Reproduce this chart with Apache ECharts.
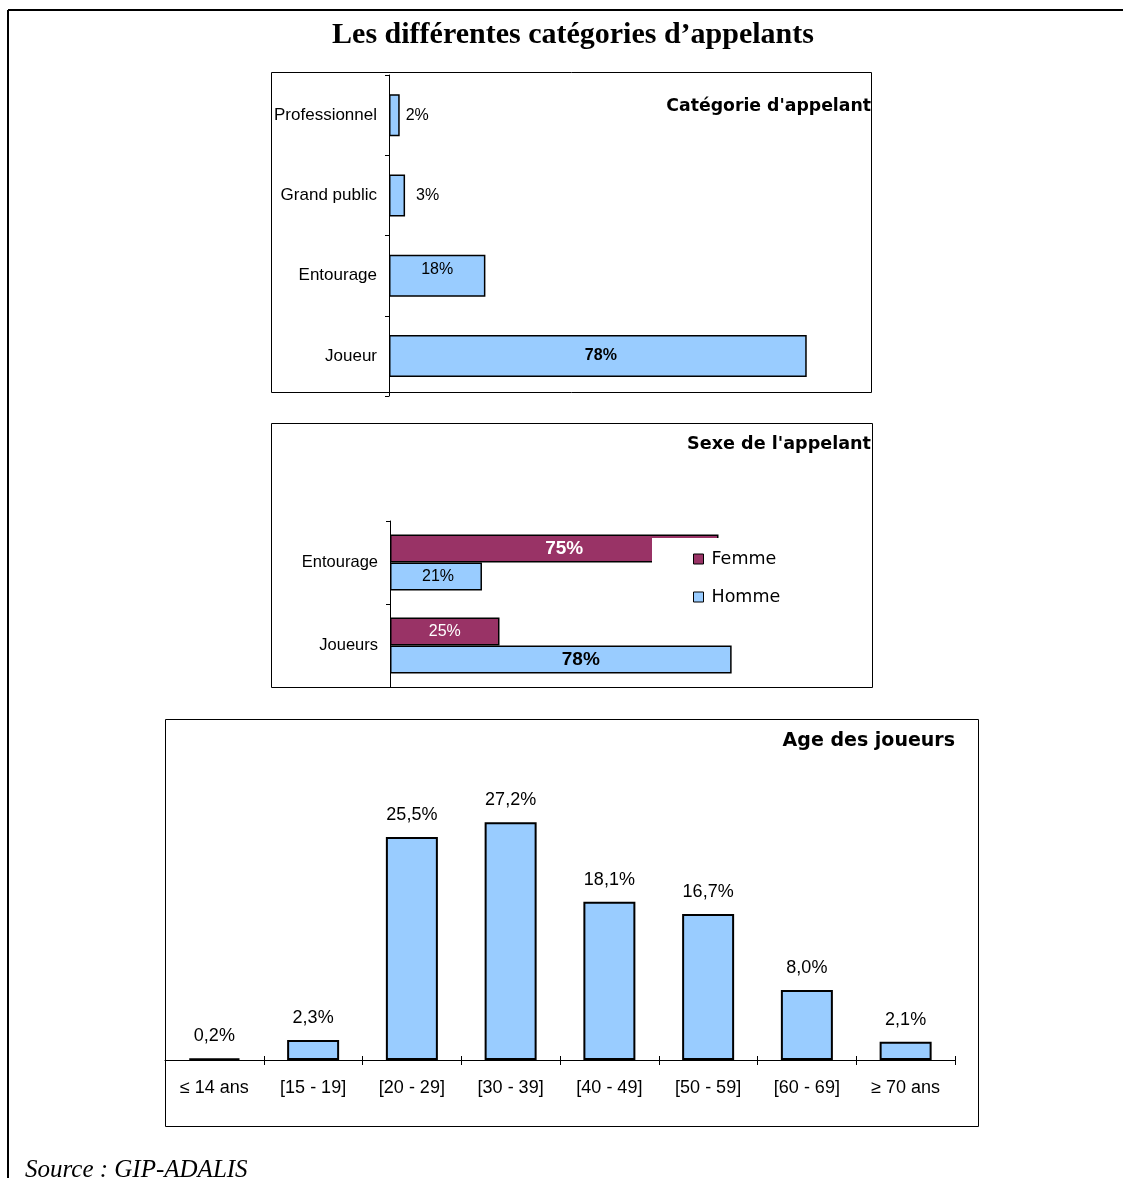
<!DOCTYPE html>
<html>
<head>
<meta charset="utf-8">
<title>Les différentes catégories d’appelants</title>
<script src="https://cdn.jsdelivr.net/npm/echarts@6/dist/echarts.min.js"></script>
<style>
  html, body { margin: 0; padding: 0; background: #fff; }
  #chart { width: 1123px; height: 1178px; }
</style>
</head>
<body>
<div id="chart"></div>
<script>
// Catégorie d'appelant (share of calls, %)
const callerCategories = ['Professionnel', 'Grand public', 'Entourage', 'Joueur'];
const callerValues = [2, 3, 18, 78];

// Sexe de l'appelant (%)
const sexCategories = ['Entourage', 'Joueurs'];
const femmeValues = [75, 25];
const hommeValues = [21, 78];

// Age des joueurs (%)
const ageCategories = ['≤ 14 ans', '[15 - 19]', '[20 - 29]', '[30 - 39]', '[40 - 49]', '[50 - 59]', '[60 - 69]', '≥ 70 ans'];
const ageValues = [0.2, 2.3, 25.5, 27.2, 18.1, 16.7, 8.0, 2.1];

const BLUE = '#99CCFF';
const PLUM = '#993366';
const SANS = '"Liberation Sans", Arial, sans-serif';
const HEAD = '"DejaVu Sans", Verdana, sans-serif';
const SERIF = '"Liberation Serif", "Times New Roman", serif';

// per-bar label placement for the caller-category chart
const callerLabelStyles = [
  { position: 'right', distance: 6 },
  { position: 'right', distance: 11 },
  { position: 'insideTop', distance: 7 },
  { position: 'inside', fontWeight: 'bold', offset: [3, 0] }
];
const femmeLabelStyles = [
  { position: 'inside', fontWeight: 'bold', fontSize: 19, offset: [10, 0] },
  { position: 'inside', fontSize: 16 }
];
const hommeLabelStyles = [
  { position: 'inside', fontSize: 16, offset: [2, 0] },
  { position: 'inside', fontWeight: 'bold', fontSize: 19, offset: [20, 0] }
];

const pct = v => v + '%';

const chart = echarts.init(document.getElementById('chart'), null, { renderer: 'canvas' });

const boxStroke = { fill: 'none', stroke: '#000', lineWidth: 1 };

chart.setOption({
  animation: false,
  backgroundColor: '#fff',
  textStyle: { fontFamily: SANS, color: '#000' },
  grid: [
    { left: 389, top: 75, width: 482, height: 321 },
    { left: 390, top: 521, width: 438, height: 166 },
    { left: 165, top: 754, width: 790, height: 306 }
  ],
  xAxis: [
    { gridIndex: 0, type: 'value', min: 0, max: 90, show: false },
    { gridIndex: 1, type: 'value', min: 0, max: 100, show: false },
    {
      gridIndex: 2, type: 'category', data: ageCategories, position: 'bottom',
      axisLine: { lineStyle: { color: '#000', width: 1 } },
      axisTick: { show: true, length: 5, lineStyle: { color: '#000' } },
      axisLabel: { fontSize: 18, color: '#000', margin: 19, fontFamily: SANS },
      splitLine: { show: false }
    },
    {
      gridIndex: 2, type: 'category', data: ageCategories, position: 'bottom',
      axisLine: { show: false },
      axisTick: { show: true, inside: true, length: 4, lineStyle: { color: '#000' } },
      axisLabel: { show: false },
      splitLine: { show: false }
    }
  ],
  yAxis: [
    {
      gridIndex: 0, type: 'category', data: callerCategories, inverse: true,
      axisLine: { lineStyle: { color: '#000', width: 1 } },
      axisTick: { show: true, length: 4, lineStyle: { color: '#000' } },
      axisLabel: { fontSize: 17, color: '#000', margin: 12, fontFamily: SANS }
    },
    {
      gridIndex: 1, type: 'category', data: sexCategories, inverse: true,
      axisLine: { lineStyle: { color: '#000', width: 1 } },
      axisTick: { show: true, length: 4, lineStyle: { color: '#000' } },
      axisLabel: { fontSize: 16.5, color: '#000', margin: 12, fontFamily: SANS }
    },
    { gridIndex: 2, type: 'value', min: 0, max: 35, show: false }
  ],
  legend: {
    data: ['Femme', 'Homme'],
    orient: 'vertical',
    left: 652, top: 538,
    padding: [12, 90, 12, 41],
    backgroundColor: '#fff',
    icon: 'rect',
    itemWidth: 10, itemHeight: 10,
    itemGap: 20,
    selectedMode: false,
    itemStyle: { borderColor: '#000', borderWidth: 1 },
    textStyle: { fontSize: 17.5, fontFamily: HEAD, color: '#000', padding: [0, 0, 0, 3] }
  },
  series: [
    {
      type: 'bar', xAxisIndex: 0, yAxisIndex: 0, barWidth: 42,
      itemStyle: { color: BLUE, borderColor: '#000', borderWidth: 1.5 },
      label: { show: true, fontSize: 16, color: '#000', fontFamily: SANS, formatter: p => pct(p.value) },
      data: callerValues.map((v, i) => ({ value: v, label: callerLabelStyles[i] }))
    },
    {
      name: 'Femme', type: 'bar', xAxisIndex: 1, yAxisIndex: 1, barWidth: 28, barGap: '0%',
      itemStyle: { color: PLUM, borderColor: '#000', borderWidth: 1.5 },
      label: { show: true, color: '#fff', fontFamily: SANS, formatter: p => pct(p.value) },
      data: femmeValues.map((v, i) => ({ value: v, label: femmeLabelStyles[i] }))
    },
    {
      name: 'Homme', type: 'bar', xAxisIndex: 1, yAxisIndex: 1, barWidth: 28, barGap: '0%',
      itemStyle: { color: BLUE, borderColor: '#000', borderWidth: 1.5 },
      label: { show: true, color: '#000', fontFamily: SANS, formatter: p => pct(p.value) },
      data: hommeValues.map((v, i) => ({ value: v, label: hommeLabelStyles[i] }))
    },
    {
      type: 'bar', xAxisIndex: 2, yAxisIndex: 2, barWidth: 52,
      itemStyle: { color: BLUE, borderColor: '#000', borderWidth: 2 },
      label: {
        show: true, position: 'top', distance: 13, fontSize: 18, color: '#000', fontFamily: SANS,
        formatter: p => p.value.toFixed(1).replace('.', ',') + '%'
      },
      data: ageValues
    }
  ],
  graphic: [
    // outer frame (top and left rules)
    { type: 'line', shape: { x1: 8, y1: 10, x2: 1123, y2: 10 }, style: { stroke: '#000', lineWidth: 2 } },
    { type: 'line', shape: { x1: 8, y1: 10, x2: 8, y2: 1178 }, style: { stroke: '#000', lineWidth: 2 } },
    // panel boxes
    { type: 'rect', shape: { x: 271.5, y: 72.5, width: 600, height: 320 }, style: boxStroke, silent: true },
    { type: 'rect', shape: { x: 271.5, y: 423.5, width: 601, height: 264 }, style: boxStroke, silent: true },
    { type: 'rect', shape: { x: 165.5, y: 719.5, width: 813, height: 407 }, style: boxStroke, silent: true },
    // titles
    {
      type: 'text', x: 573, y: 35,
      style: { text: 'Les différentes catégories d’appelants', font: 'bold 30px ' + SERIF, fill: '#000', textAlign: 'center', textVerticalAlign: 'middle' }
    },
    {
      type: 'text', x: 871, y: 107,
      style: { text: "Catégorie d'appelant", font: 'bold 17.3px ' + HEAD, fill: '#000', textAlign: 'right', textVerticalAlign: 'middle' }
    },
    {
      type: 'text', x: 871, y: 444,
      style: { text: "Sexe de l'appelant", font: 'bold 17.6px ' + HEAD, fill: '#000', textAlign: 'right', textVerticalAlign: 'middle' }
    },
    {
      type: 'text', x: 955, y: 741,
      style: { text: 'Age des joueurs', font: 'bold 19px ' + HEAD, fill: '#000', textAlign: 'right', textVerticalAlign: 'middle' }
    },
    {
      type: 'text', x: 25, y: 1170,
      style: { text: 'Source : GIP-ADALIS', font: 'italic 25px ' + SERIF, fill: '#000', textAlign: 'left', textVerticalAlign: 'middle' }
    }
  ]
});
</script>
</body>
</html>
